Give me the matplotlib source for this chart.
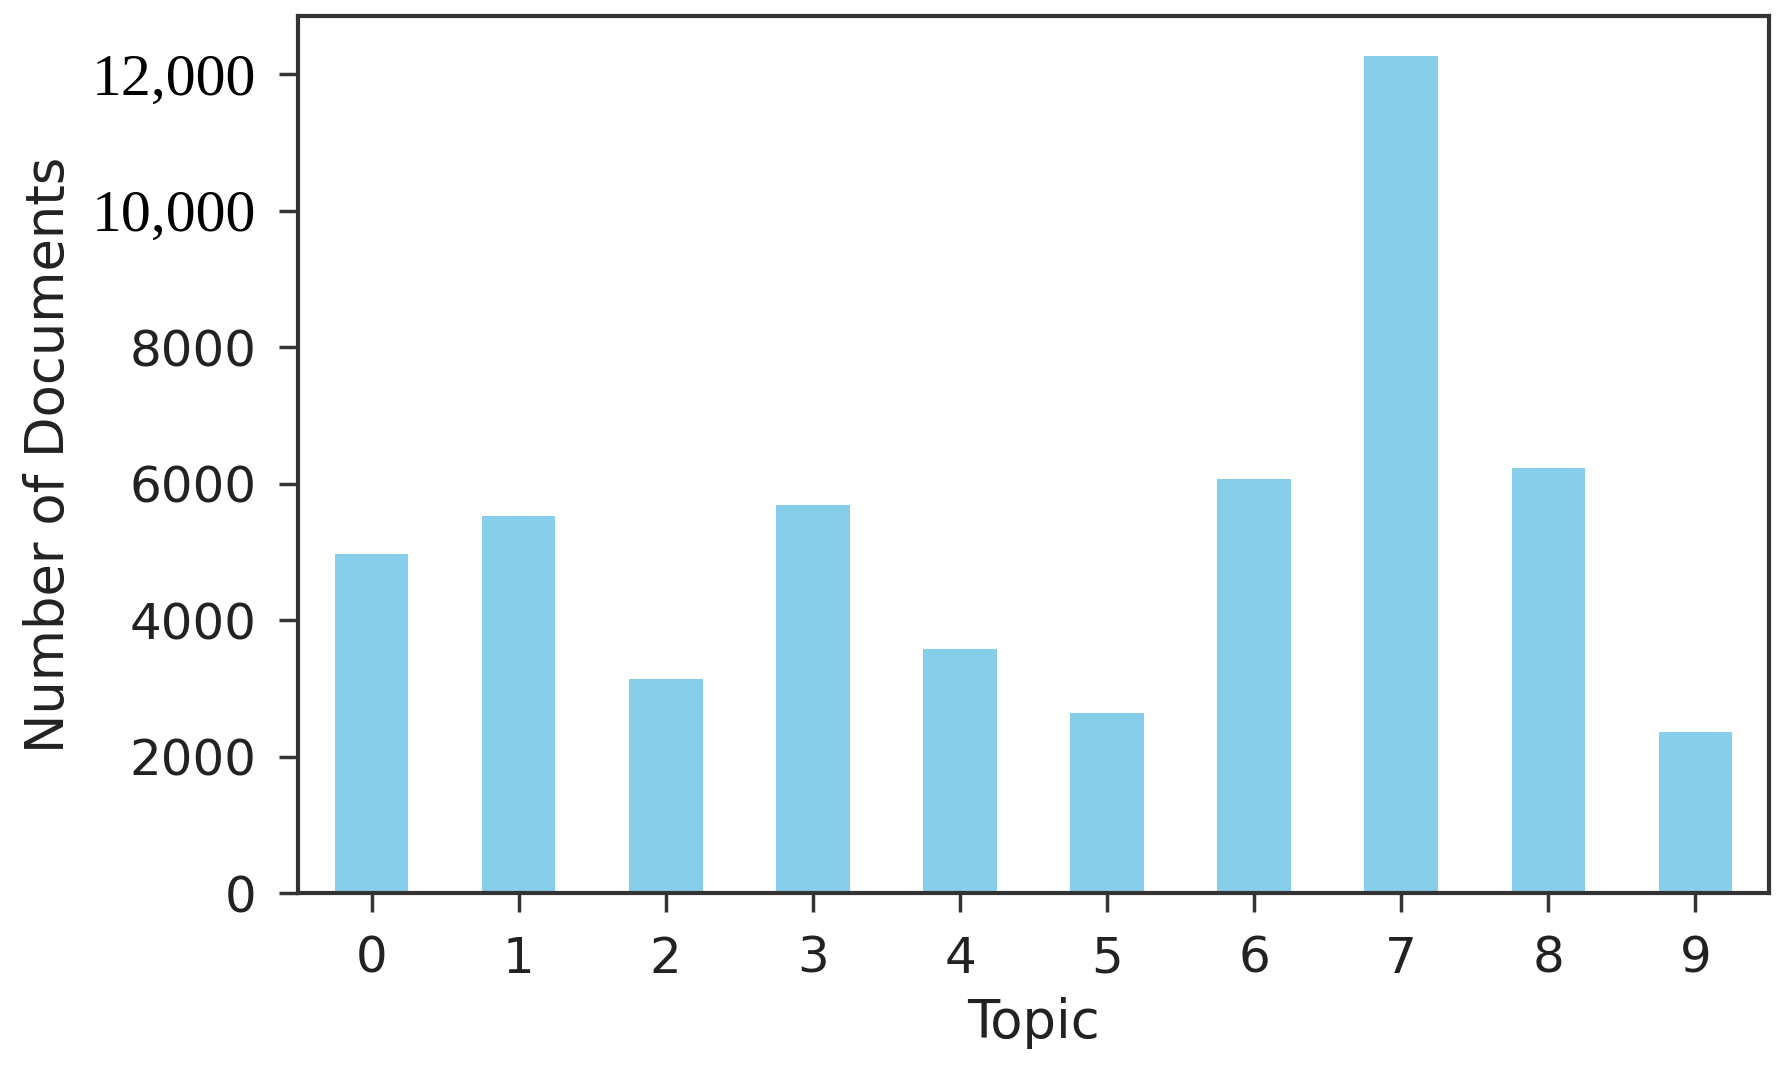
import matplotlib
matplotlib.use('Agg')
import matplotlib.pyplot as plt

# topic counts
topics = ['0', '1', '2', '3', '4', '5', '6', '7', '8', '9']
counts = [4965, 5520, 3130, 5685, 3580, 2635, 6065, 12260, 6230, 2355]

ytick_vals = [0, 2000, 4000, 6000, 8000, 10000, 12000]
ytick_text = ['0', '2000', '4000', '6000', '8000', '10,000', '12,000']

fig = plt.figure(figsize=(17.79, 10.70), dpi=100)
ax = fig.add_axes([0.1675, 0.1654, 0.8269, 0.8196])

x = list(range(len(topics)))
ax.bar(x, counts, width=0.5, color='skyblue')
ax.set_xlim(-0.5, len(topics) - 0.5)
ax.set_ylim(0, 12850)

ax.set_xticks(x)
ax.set_xticklabels(topics, fontsize=36, color='#222222')
ax.set_yticks(ytick_vals)
ax.set_yticklabels(ytick_text, fontsize=36, color='#222222')

# the two big labels were pasted in with a serif font
for lab in ax.get_yticklabels():
    if ',' in lab.get_text():
        lab.set_fontfamily('Liberation Serif')
        lab.set_fontsize(43)
        lab.set_color('black')

ax.tick_params(axis='both', length=14, width=2.5, color='#333333', pad=16)
for sp in ax.spines.values():
    sp.set_linewidth(3)
    sp.set_color('#333333')

ax.set_xlabel('Topic', fontsize=38, color='#222222', labelpad=10)
ax.set_ylabel('Number of Documents', fontsize=38, color='#222222', labelpad=12)

fig.savefig('out.png', dpi=100)
